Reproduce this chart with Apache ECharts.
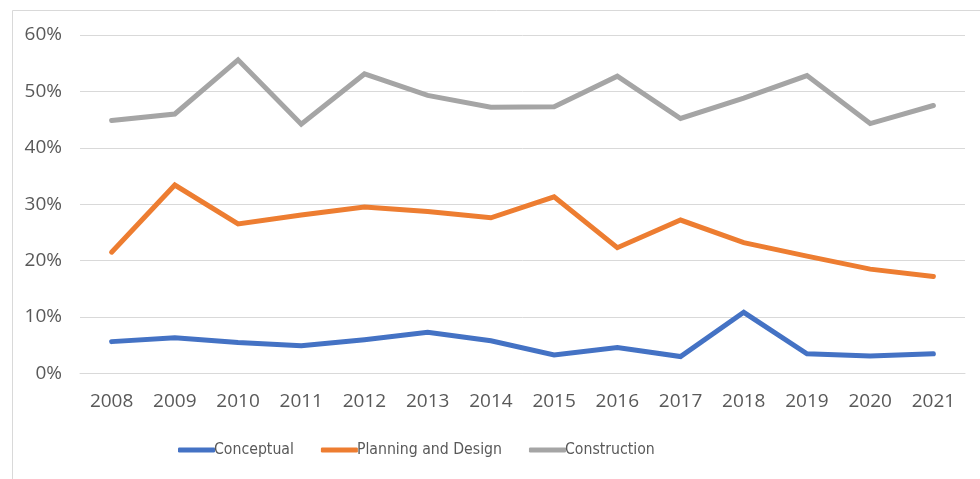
<!DOCTYPE html>
<html>
<head>
<meta charset="utf-8">
<script src="https://cdn.jsdelivr.net/npm/echarts@6/dist/echarts.min.js"></script>
<style>
html,body{margin:0;padding:0;background:#fff;}
#c{width:980px;height:479px;}
</style>
</head>
<body>
<div id="c"></div>
<script>
const years = ['2008','2009','2010','2011','2012','2013','2014','2015','2016','2017','2018','2019','2020','2021'];
const conceptual = [5.65, 6.35, 5.5, 4.9, 6.0, 7.3, 5.8, 3.3, 4.6, 3.0, 10.85, 3.5, 3.1, 3.5];
const planningDesign = [21.5, 33.4, 26.5, 28.1, 29.5, 28.7, 27.6, 31.3, 22.3, 27.2, 23.2, 20.8, 18.5, 17.2];
const construction = [44.85, 46.0, 55.6, 44.2, 53.1, 49.3, 47.2, 47.3, 52.7, 45.2, 48.8, 52.8, 44.3, 47.5];
const seriesNames = ['Conceptual', 'Planning and Design', 'Construction'];
const colors = ['#4472C4', '#ED7D31', '#A5A5A5'];

const chart = echarts.init(document.getElementById('c'), null, {renderer: 'canvas'});
const mk = (name, data, color) => ({
  name: name, type: 'line', data: data, symbol: 'none', smooth: false,
  lineStyle: {color: color, width: 5, cap: 'round', join: 'miter'},
  itemStyle: {color: color}
});
chart.setOption({
  animation: false,
  backgroundColor: '#fff',
  graphic: [{
    type: 'rect', left: 10, top: 8, silent: true,
    shape: {width: 1000, height: 500},
    style: {fill: 'none', stroke: '#d9d9d9', lineWidth: 1}
  }],
  grid: {left: 80, right: 15, top: 35, bottom: 105.5, containLabel: false},
  legend: {
    data: seriesNames,
    left: 173, top: 437,
    icon: 'roundRect', itemWidth: 37, itemHeight: 5, itemGap: 27,
    textStyle: {color: '#595959', fontFamily: '"DejaVu Sans Condensed", "DejaVu Sans", sans-serif', fontSize: 15.7, padding: [0, 0, 0, -6]}
  },
  xAxis: {
    type: 'category', data: years, boundaryGap: true,
    axisLine: {show: true, lineStyle: {color: '#d9d9d9', width: 1}},
    axisTick: {show: false},
    axisLabel: {color: '#595959', fontFamily: 'Open Sans', fontSize: 19, margin: 19}
  },
  yAxis: {
    type: 'value', min: 0, max: 60, interval: 10,
    axisLine: {show: false}, axisTick: {show: false},
    splitLine: {lineStyle: {color: '#d9d9d9', width: 1}},
    axisLabel: {color: '#595959', fontFamily: 'Open Sans', fontSize: 19, margin: 18, formatter: '{value}%'}
  },
  series: [
    mk(seriesNames[0], conceptual, colors[0]),
    mk(seriesNames[1], planningDesign, colors[1]),
    mk(seriesNames[2], construction, colors[2])
  ]
});
</script>
</body>
</html>
